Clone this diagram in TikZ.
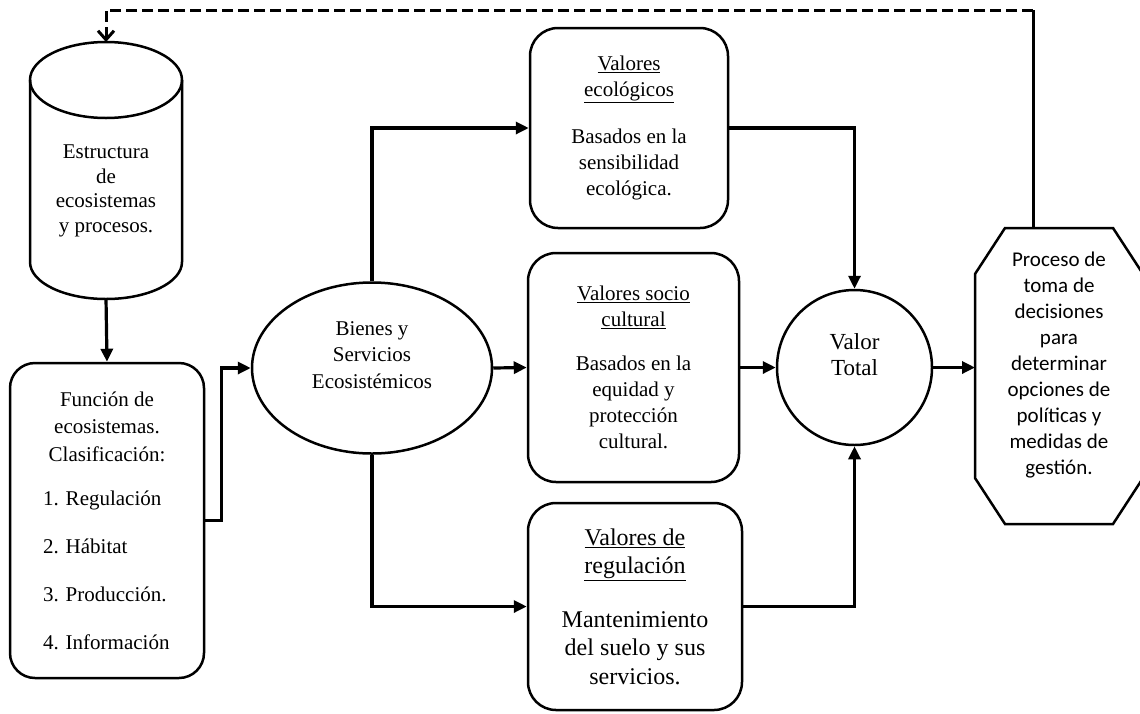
\documentclass[tikz,border=0pt]{standalone}
\usepackage{fontspec}
\setmainfont{Liberation Serif}
\newfontfamily\calibrifont{Carlito}
\usetikzlibrary{positioning, shapes.geometric, arrows.meta}

\begin{document}
\begin{tikzpicture}[x=1pt, y=-1pt,
  box/.style={draw, line width=2.5pt, align=center, font=\fontsize{21}{26}\selectfont},
  valbox/.style={box, rounded corners=28pt},
  conn/.style={line width=3.2pt, -{Triangle[length=13pt, width=12pt]}}]

\useasboundingbox (0,0) rectangle (1140,713);

\node[outer sep=0, minimum width=152pt, minimum height=256pt] (cyl) at (106,170) {};
\draw[line width=2.5pt] (30,80) -- (30,262) arc[start angle=180, end angle=0, x radius=76, y radius=37] -- (182,80);
\draw[line width=2.5pt] (106,80) ellipse [x radius=76, y radius=38];
\node[align=center, font=\fontsize{21}{24.5}\selectfont] (cyltext) at (106,191) {Estructura\\de\\ecosistemas\\y procesos.};

\node[valbox, rounded corners=25pt, minimum width=194pt, minimum height=315pt, font=\fontsize{21}{27.5}\selectfont] (func) at (107,520.5) {Función de\\ecosistemas.\\Clasificación:\\[16.5pt]\makebox[128pt][l]{1. Regulación}\\[20.5pt]\makebox[128pt][l]{2. Hábitat}\\[20.5pt]\makebox[128pt][l]{3. Producción.}\\[20.5pt]\makebox[128pt][l]{4. Información}};

\node[box, ellipse, minimum width=240pt, minimum height=171pt, font=\fontsize{21}{26.5}\selectfont] (bienes) at (372,368) {Bienes y\\Servicios\\Ecosistémicos\\\mbox{}};

\node[valbox, minimum width=198pt, minimum height=200pt] (eco) at (629,128) {\underline{Valores}\\\underline{ecológicos}\\[21.5pt]Basados en la\\sensibilidad\\ecológica.};
\node[valbox, minimum width=211pt, minimum height=229pt] (socio) at (633.5,367.5) {\underline{Valores socio}\\\underline{cultural}\\[18pt]Basados en la\\equidad y\\protección\\cultural.};
\node[valbox, minimum width=214pt, minimum height=207pt, font=\fontsize{24}{28.5}\selectfont] (reg) at (635,606.5) {\underline{Valores de}\\\underline{regulación}\\[25pt]Mantenimiento\\del suelo y sus\\servicios.};

\node[box, circle, minimum size=155pt, font=\fontsize{23}{26}\selectfont] (total) at (854.5,367.5) {Valor\\Total\\\mbox{}};

\node[outer sep=0, align=center, minimum width=168pt, minimum height=296pt, font=\calibrifont\fontsize{21}{26}\selectfont] (oct) at (1059,376) {Proceso de\\toma de\\decisiones\\para\\determinar\\opciones de\\políticas y\\medidas de\\gestión.\\\mbox{}};
\draw[line width=2.5pt] ([xshift=30pt]oct.north west) -- ([xshift=-30pt]oct.north east) -- ([yshift=-46pt]oct.north east) -- ([yshift=46pt]oct.south east) -- ([xshift=-30pt]oct.south east) -- ([xshift=30pt]oct.south west) -- ([yshift=46pt]oct.south west) -- ([yshift=-46pt]oct.north west) -- cycle;

\draw[conn] (cyl.south) -- (func.north);
\draw[conn] (func.east) -- ++(16,0) |- (bienes.west);
\draw[conn] (bienes.north) |- (eco.west);
\draw[conn] (bienes.east) -- (socio.west);
\draw[conn] (bienes.south) |- (reg.west);
\draw[conn] (eco.east) -| (total.north);
\draw[conn] (socio.east) -- (total.west);
\draw[conn] (reg.east) -| (total.south);
\draw[conn] (total.east) -- (total.east -| oct.west);

\coordinate (fbcorner) at (1033,10);
\draw[line width=3pt] (fbcorner |- oct.north) -- (fbcorner);
\draw[line width=3pt, dash pattern=on 11pt off 5pt, -{Straight Barb[length=9pt, width=16pt]}] (fbcorner) -| (cyl.north);

\end{tikzpicture}
\end{document}
